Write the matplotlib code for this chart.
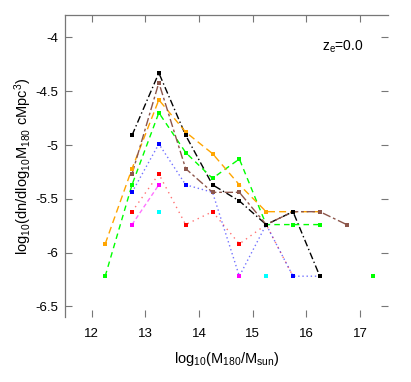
#!/usr/bin/python3
'''
Abstract:
    Plot the halo mass function, log10(dn/dlog10 M180), for several runs at z_e = 0.
Output:
    out.png
'''
import numpy as np
from matplotlib import pyplot as plt

#--------------------------------------------
# Data, nan = empty bin
mass_bins = [12.25, 12.75, 13.25, 13.75, 14.25, 14.75, 15.25, 15.75, 16.25, 16.75, 17.25]
nan = np.nan
black_vals   = [nan, -4.91, -4.33, -4.91, -5.37, -5.52, -5.74, -5.62, -6.22, nan, nan]
red_vals     = [nan, -5.62, -5.27, -5.74, -5.62, -5.92, -5.74, -6.22, nan, nan, nan]
green_vals   = [-6.22, -5.37, -4.70, -5.07, -5.31, -5.13, -5.74, -5.74, -5.74, nan, -6.22]
blue_vals    = [nan, -5.44, -4.99, -5.37, -5.44, -6.22, -5.74, -6.22, -6.22, nan, nan]
cyan_vals    = [nan, nan, -5.62, nan, nan, nan, -6.22, nan, nan, nan, nan]
magenta_vals = [nan, -5.74, -5.37, nan, nan, -6.22, nan, nan, nan, nan, nan]
orange_vals  = [-5.92, -5.22, -4.58, -4.88, -5.08, -5.37, -5.62, -5.62, -5.62, nan, nan]
brown_vals   = [nan, -5.27, -4.42, -5.22, -5.44, -5.44, -5.74, -5.62, -5.62, -5.74, nan]

x_ticks = [12, 13, 14, 15, 16, 17]
y_ticks = [-6.5, -6, -5.5, -5, -4.5, -4]
y_tick_labels = ["-6.5", "-6", "-5.5", "-5", "-4.5", "-4"]

#--------------------------------------------
# Main code
if __name__ == "__main__":
    plt.rcParams['font.family'] = ['Liberation Sans', 'DejaVu Sans']
    plt.rcParams['mathtext.default'] = 'regular'
    plt.rcParams['axes.unicode_minus'] = False

    fig = plt.figure(figsize = (4.11, 3.82), dpi = 100)
    axes = fig.add_axes([0.158, 0.170, 0.786, 0.791])

    # (values, colour, dash pattern, alpha)
    series = [
        (black_vals,   'black',   (0, (5, 2, 1, 2)), 1.0),
        (red_vals,     'red',     (0, (1, 3)),       0.55),
        (green_vals,   '#00ff00', (0, (4, 3)),       1.0),
        (blue_vals,    'blue',    (0, (1, 2)),       0.55),
        (cyan_vals,    'cyan',    (0, (1, 2)),       0.8),
        (magenta_vals, 'magenta', (0, (3, 2)),       0.55),
        (orange_vals,  'orange',  (0, (5, 3)),       1.0),
        (brown_vals,   '#8c564b', (0, (6, 2, 2, 2)), 1.0),
    ]
    for vals, color, dash, alpha in series:
        axes.plot(mass_bins, vals, color = color, linestyle = dash, lw = 1.0,
                  alpha = alpha)
        # square markers drawn opaque on top of the (lighter) line
        axes.plot(mass_bins, vals, color = color, linestyle = 'none',
                  marker = 's', markersize = 2.4, markeredgewidth = 0,
                  zorder = 3 if color == 'black' else 2.5)

    axes.text(0.86, 0.894, r"z$_e$=0.0", transform = axes.transAxes,
              ha = 'center', va = 'center', fontsize = 10)

    axes.set_xlim(11.5, 17.52)
    axes.set_ylim(-6.6, -3.79)
    axes.set_xticks(x_ticks)
    axes.set_yticks(y_ticks)
    axes.set_yticklabels(y_tick_labels)
    axes.tick_params(direction = 'in', length = 5, width = 0.8, color = '#777777',
                     top = True, right = True, labelsize = 9.5)
    axes.tick_params(axis = 'x', pad = 8)
    axes.tick_params(axis = 'y', pad = 5)
    for side in ['right', 'bottom']:
        axes.spines[side].set_visible(False)
    for side in ['left', 'top']:
        axes.spines[side].set_color('#777777')
        axes.spines[side].set_linewidth(0.9)

    axes.set_xlabel(r"log$_{10}$(M$_{180}$/M$_{sun}$)", fontsize = 10.5, labelpad = 7)
    axes.set_ylabel(r"log$_{10}$(dn/dlog$_{10}$M$_{180}$ cMpc$^3$)", fontsize = 10.5,
                    labelpad = 1)
    plt.savefig("out.png", dpi = 100)
